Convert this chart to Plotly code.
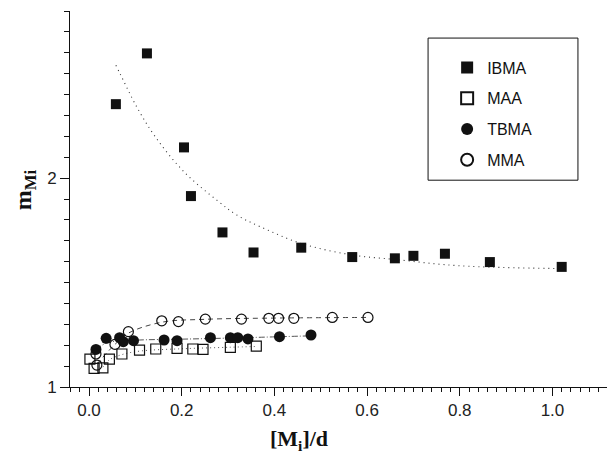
import plotly.graph_objects as go

# ---- data ----
ibma_x = [0.058, 0.125, 0.205, 0.220, 0.288, 0.355, 0.458, 0.568, 0.660, 0.700, 0.768, 0.865, 1.020]
ibma_y = [2.354, 2.597, 2.147, 1.914, 1.740, 1.644, 1.667, 1.622, 1.616, 1.628, 1.638, 1.598, 1.575]
ibma_fit_x = [0.058, 0.067, 0.103, 0.143, 0.205, 0.280, 0.319, 0.370, 0.458, 0.568, 0.658, 0.802, 1.020]
ibma_fit_y = [2.540, 2.500, 2.341, 2.198, 2.030, 1.887, 1.823, 1.767, 1.687, 1.632, 1.611, 1.580, 1.567]

maa_x = [0.002, 0.011, 0.030, 0.044, 0.071, 0.109, 0.144, 0.190, 0.224, 0.246, 0.305, 0.361]
maa_y = [1.133, 1.089, 1.092, 1.133, 1.158, 1.177, 1.182, 1.185, 1.182, 1.180, 1.190, 1.196]
maa_fit_x = [0.030, 0.044, 0.071, 0.110, 0.200, 0.300, 0.361]
maa_fit_y = [1.095, 1.130, 1.155, 1.172, 1.183, 1.190, 1.194]

tbma_x = [0.015, 0.037, 0.066, 0.074, 0.096, 0.162, 0.190, 0.262, 0.305, 0.321, 0.343, 0.411, 0.479]
tbma_y = [1.180, 1.233, 1.236, 1.217, 1.222, 1.225, 1.222, 1.236, 1.236, 1.236, 1.230, 1.241, 1.249]
tbma_fit_x = [0.015, 0.040, 0.100, 0.200, 0.300, 0.480]
tbma_fit_y = [1.180, 1.212, 1.224, 1.229, 1.234, 1.245]

mma_x = [0.015, 0.017, 0.056, 0.085, 0.157, 0.193, 0.251, 0.329, 0.388, 0.409, 0.442, 0.525, 0.602]
mma_y = [1.158, 1.105, 1.204, 1.265, 1.317, 1.313, 1.325, 1.325, 1.329, 1.329, 1.329, 1.333, 1.333]
mma_fit_x = [0.017, 0.056, 0.085, 0.157, 0.250, 0.400, 0.602]
mma_fit_y = [1.110, 1.204, 1.258, 1.310, 1.324, 1.330, 1.333]

x_ticks = [0.0, 0.2, 0.4, 0.6, 0.8, 1.0]
x_tick_labels = ["0.0", "0.2", "0.4", "0.6", "0.8", "1.0"]
y_ticks = [1, 2]
y_tick_labels = ["1", "2"]
x_range = [-0.041, 1.135]
y_range = [1.0, 2.8]

INK = "#111111"
fig = go.Figure()

# fit / guide lines (not in legend)
fig.add_trace(go.Scatter(x=ibma_fit_x, y=ibma_fit_y, mode="lines", line=dict(color="#333", width=1.1, dash="1px,4px", shape="spline"), showlegend=False, hoverinfo="skip"))
fig.add_trace(go.Scatter(x=maa_fit_x, y=maa_fit_y, mode="lines", line=dict(color="#555", width=1, dash="1px,3px", shape="spline"), showlegend=False, hoverinfo="skip"))
fig.add_trace(go.Scatter(x=tbma_fit_x, y=tbma_fit_y, mode="lines", line=dict(color="#555", width=1, dash="6px,2px,1px,2px", shape="spline"), showlegend=False, hoverinfo="skip"))
fig.add_trace(go.Scatter(x=mma_fit_x, y=mma_fit_y, mode="lines", line=dict(color="#444", width=1, dash="5px,4px", shape="spline"), showlegend=False, hoverinfo="skip"))

# markers
fig.add_trace(go.Scatter(x=ibma_x, y=ibma_y, mode="markers", name="IBMA", legendgroup="a",
                         marker=dict(symbol="square", size=10, color=INK)))
fig.add_trace(go.Scatter(x=maa_x, y=maa_y, mode="markers", name="MAA", legendgroup="b",
                         marker=dict(symbol="square-open", size=10, color=INK, line=dict(width=1.2))))
fig.add_trace(go.Scatter(x=tbma_x, y=tbma_y, mode="markers", name="TBMA", legendgroup="c",
                         marker=dict(symbol="circle", size=11, color=INK)))
fig.add_trace(go.Scatter(x=mma_x, y=mma_y, mode="markers", name="MMA", legendgroup="d",
                         marker=dict(symbol="circle-open", size=10, color=INK, line=dict(width=1.2))))

tickfont = dict(family="Liberation Sans, Arial, sans-serif", size=17, color="#222")

# the page body has an 8px margin, so the figure is 8px smaller and margins compensate
fig.update_layout(
    template="none",
    width=607, height=447,
    margin=dict(l=62, r=0, t=3, b=68, autoexpand=False),
    paper_bgcolor="white", plot_bgcolor="white",
    showlegend=True,
    legend=dict(x=0.692, y=0.895, xanchor="left", yanchor="top",
                bgcolor="rgba(0,0,0,0)", borderwidth=0, itemsizing="constant",
                font=dict(family="Liberation Sans, Arial, sans-serif", size=16, color="#111"),
                traceorder="grouped", tracegroupgap=7),
    xaxis=dict(range=x_range, automargin=False, showline=True, linecolor=INK, linewidth=1, showgrid=False, zeroline=False,
               tickmode="array", tickvals=x_ticks, ticktext=x_tick_labels, ticks="outside", ticklen=8,
               tickcolor=INK, tickfont=tickfont,
               minor=dict(dtick=0.02, tick0=0, ticks="outside", ticklen=4, tickcolor=INK, showgrid=False)),
    yaxis=dict(range=y_range, automargin=False, showline=True, linecolor=INK, linewidth=1, showgrid=False, zeroline=False,
               tickmode="array", tickvals=y_ticks, ticktext=y_tick_labels, ticks="outside", ticklen=9,
               tickcolor=INK, tickfont=tickfont,
               minor=dict(dtick=0.1, tick0=0, ticks="outside", ticklen=5, tickcolor=INK, showgrid=False)),
    xaxis2=dict(range=x_range, automargin=False, overlaying="x", anchor="y", side="bottom", showline=False, showgrid=False,
                zeroline=False, tickmode="array", tickvals=x_ticks, ticks="inside", ticklen=8,
                tickcolor=INK, showticklabels=False),
    yaxis2=dict(range=y_range, automargin=False, overlaying="y", anchor="x", side="left", showline=False, showgrid=False,
                zeroline=False, tickmode="array", tickvals=y_ticks, ticks="inside", ticklen=7,
                tickcolor=INK, showticklabels=False),
    shapes=[dict(type="rect", xref="paper", yref="paper", x0=0.657, x1=0.932, y0=0.55, y1=0.928,
                 line=dict(color=INK, width=1), fillcolor="rgba(0,0,0,0)", layer="below")],
    annotations=[
        dict(text="<b>[M<sub>i</sub>]/d</b>", xref="paper", yref="paper", x=0.42, y=-0.14,
             xanchor="center", yanchor="middle", showarrow=False,
             font=dict(family="Liberation Serif, Times New Roman, serif", size=22, color="#111")),
        dict(text="<b>m<sub>Mi</sub></b>", xref="paper", yref="paper", x=-0.083, y=0.525,
             xanchor="center", yanchor="middle", showarrow=False, textangle=-90,
             font=dict(family="Liberation Serif, Times New Roman, serif", size=24, color="#111")),
    ],
)

fig.write_html("out.html")
